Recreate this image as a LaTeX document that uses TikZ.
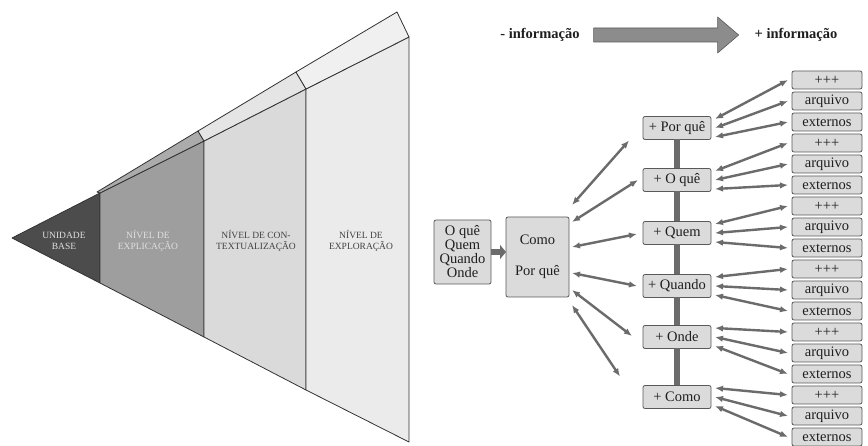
\documentclass[tikz,border=0pt]{standalone}
\usepackage{fontspec}
\setmainfont{Liberation Serif}
\usetikzlibrary{arrows.meta,calc}
\definecolor{ConeInk}{gray}{0.2}
\definecolor{ConeBase}{gray}{0.3}
\definecolor{ConeExpl}{gray}{0.62}
\definecolor{ConeExplTop}{gray}{0.67}
\definecolor{ConeCont}{gray}{0.855}
\definecolor{ConeContTop}{gray}{0.9}
\definecolor{ConeExplo}{gray}{0.92}
\definecolor{ConeExploTop}{gray}{0.94}
\definecolor{ConeLight}{gray}{0.88}
\definecolor{ConeDark}{gray}{0.25}
\definecolor{InfoInk}{gray}{0.12}
\definecolor{InfoBox}{gray}{0.86}
\definecolor{InfoEdge}{gray}{0.35}
\definecolor{InfoArrow}{gray}{0.42}
\definecolor{InfoBar}{gray}{0.42}
\definecolor{InfoBig}{gray}{0.55}
\tikzset{
    info/diagram/.style={
        font=\fontsize{14.5}{15}\selectfont,
        text=InfoInk,
        line cap=round,
        line join=round,
        every node/.style={inner sep=1pt, outer sep=0pt}
    },
    cone/face/.style={draw=ConeInk, line width=0.8pt},
    cone/label/.style={font=\fontsize{9.5}{10.5}\selectfont, align=center},
    info/box/.style={
        fill=InfoBox, draw=InfoEdge, line width=0.8pt,
        rounded corners=2pt, align=center
    },
    info/level/.style={info/box, minimum width=68pt, minimum height=23pt},
    info/source/.style={info/box, minimum width=70pt, minimum height=18pt},
    info/link/.style={
        draw=InfoArrow, line width=2.4pt,
        {Latex[length=8pt, width=6.5pt]}-{Latex[length=8pt, width=6.5pt]}
    },
    info/feed/.style={
        draw=InfoArrow, line width=6pt, line cap=butt,
        -{Triangle[length=6pt, width=14pt]}
    },
    info/bar/.style={draw=InfoBar, line width=6pt, line cap=butt},
    info/big/.style={fill=InfoBig, draw=InfoEdge, line width=0.6pt},
    info/caption/.style={font=\fontsize{14.5}{15}\selectfont\bfseries}
}
\begin{document}
\begin{tikzpicture}[info/diagram, x=1pt, y=-1pt]
    \useasboundingbox (0,0) rectangle (868,446);
    \fill[white] (0,0) rectangle (868,446);
    \filldraw[cone/face, fill=ConeBase] (12,238) -- (100,193) -- (100,283) -- cycle;
    \filldraw[cone/face, fill=ConeExpl] (100,193) -- (204,141) -- (204,337) -- (100,283) -- cycle;
    \filldraw[cone/face, fill=ConeCont] (204,141) -- (306,89) -- (306,390) -- (204,337) -- cycle;
    \filldraw[cone/face, fill=ConeExplo] (306,89) -- (409,37) -- (409,442) -- (306,390) -- cycle;
    \filldraw[cone/face, fill=ConeExplTop] (97,192) -- (198,131) -- (204,141) -- (100,193) -- cycle;
    \filldraw[cone/face, fill=ConeContTop] (198,131) -- (296,72) -- (306,89) -- (204,141) -- cycle;
    \filldraw[cone/face, fill=ConeExploTop] (296,72) -- (397,12) -- (409,37) -- (306,89) -- cycle;
    \node[cone/label, text=ConeLight] (base) at (64,241) {UNIDADE\\BASE};
    \node[cone/label, text=ConeLight] (expl) at (148,241) {NÍVEL DE\\EXPLICAÇÃO};
    \node[cone/label, text=ConeDark] (cont) at (256,241) {NÍVEL DE CON-\\TEXTUALIZAÇÃO};
    \node[cone/label, text=ConeDark] (explo) at (361,241) {NÍVEL DE\\EXPLORAÇÃO};

    \node[info/caption] (menos) at (540,35) {- informação};
    \node[info/caption] (mais) at (796,35) {+ informação};
    \path ($(menos.east)+(13,0)$) coordinate (tail)
          ($(mais.west)+(-15,0)$) coordinate (tip);
    \filldraw[info/big] ($(tail)+(0,-7)$) -- ($(tip)+(-21,-7)$) -- ($(tip)+(-21,-18)$)
        -- (tip) -- ($(tip)+(-21,18)$) -- ($(tip)+(-21,7)$) -- ($(tail)+(0,7)$) -- cycle;

    \node[info/box, font=\fontsize{14.5}{14}\selectfont, minimum width=57pt, minimum height=64pt]
        (oque) at (462.5,252) {O quê\\Quem\\Quando\\Onde};
    \node[info/box, minimum width=63pt, minimum height=80pt]
        (como) at (537.5,257) {Como\\[16pt]Por quê};
    \draw[info/feed] (oque.east) -- (oque.east -| como.west);

    \foreach \name/\txt/\yy in {mporque/{+ Por quê}/128, moque/{+ O quê}/180,
        mquem/{+ Quem}/233, mquando/{+ Quando}/286, monde/{+ Onde}/337, mcomo/{+ Como}/397} {
        \node[info/level] (\name) at (677,\yy) {\txt};
    }
    \foreach \a/\b in {mporque/moque, moque/mquem, mquem/mquando, mquando/monde, monde/mcomo} {
        \draw[info/bar] (\a.south) -- (\b.north);
    }

    \foreach \g in {0,...,5} {
        \foreach \j/\lab in {0/{+++}, 1/arquivo, 2/externos} {
            \pgfmathsetmacro\yy{80+21*(3*\g+\j)}
            \node[info/source] (src-\g-\j) at (827,\yy) {\lab};
        }
    }

    \foreach \dy/\m/\ex/\ey in {-52/mporque.south west/-14/1, -35/moque.west/-5/0,
        -10/mquem.west/-6/1, 16/mquando.west/-6/0, 33/monde.west/-11/-1, 48/mcomo.north west/-23/-9} {
        \draw[info/link] ($(como.east)+(3,\dy)$) -- ($(\m)+(\ex,\ey)$);
    }
    \foreach \m [count=\g from 0] in {mporque, moque, mquem, mquando, monde, mcomo} {
        \foreach \j/\dy in {0/-9, 1/0, 2/9} {
            \draw[info/link] ($(\m.east)+(4,\dy)$) -- ($(src-\g-\j.west)+(-4,0)$);
        }
    }
\end{tikzpicture}
\end{document}
